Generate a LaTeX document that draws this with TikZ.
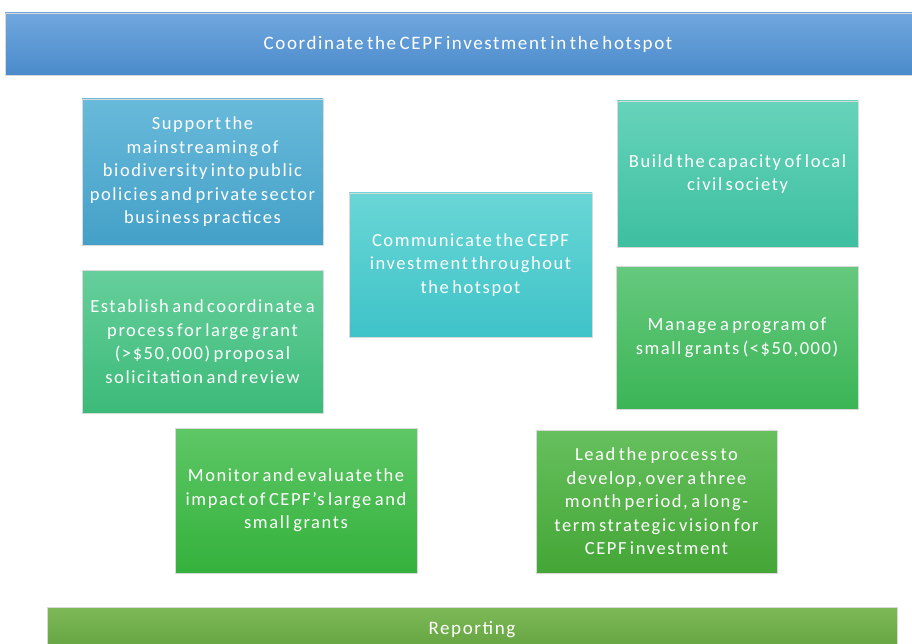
\documentclass[tikz,border=0pt]{standalone}
\usepackage{fontspec}
\setmainfont{Carlito}[LetterSpace=8.5, WordSpace=0.6]
\begin{document}
\begin{tikzpicture}[x=1pt,y=-1pt,
  card/.style={rectangle, draw=white!70!gray, line width=0.8pt, align=center,
    inner sep=0pt, font=\fontsize{18.5}{23.5}\selectfont, text=white},
  bar/.style={rectangle, draw=white!70!gray, line width=0.8pt, inner sep=0pt,
    font=\fontsize{19}{20}\selectfont, text=white}]
\definecolor{topA}{HTML}{71A7DE}\definecolor{topB}{HTML}{4A8BCB}
\definecolor{supA}{HTML}{68BADA}\definecolor{supB}{HTML}{44A0C8}
\definecolor{estA}{HTML}{66CF9C}\definecolor{estB}{HTML}{3CBA78}
\definecolor{comA}{HTML}{6AD6D6}\definecolor{comB}{HTML}{3EC3C8}
\definecolor{bldA}{HTML}{66D3BB}\definecolor{bldB}{HTML}{3EBF9F}
\definecolor{manA}{HTML}{66C97E}\definecolor{manB}{HTML}{3BB556}
\definecolor{monA}{HTML}{5EC766}\definecolor{monB}{HTML}{34B13C}
\definecolor{leadA}{HTML}{66C05E}\definecolor{leadB}{HTML}{44A636}
\definecolor{repA}{HTML}{7DB957}\definecolor{repB}{HTML}{62A23F}

\useasboundingbox (0,0) rectangle (912,644);

% header and footer bars
\node[bar, top color=topA, bottom color=topB, minimum width=926pt, minimum height=62pt]
  (coord) at (468,44) {Coordinate the CEPF investment in the hotspot};
\node[bar, top color=repA, bottom color=repB, minimum width=850pt, minimum height=46pt]
  (report) at (472,630) {Reporting};

% task cards
\node[card, top color=supA, bottom color=supB, minimum width=241pt, minimum height=146pt]
  (support) at (202.5,172) {Support the\\mainstreaming of\\biodiversity into public\\policies and private sector\\business practices};
\node[card, top color=estA, bottom color=estB, minimum width=241pt, minimum height=143pt]
  (establish) at (202.5,341.5) {Establish and coordinate a\\process for large grant\\(>\$50,000) proposal\\solicitation and review};
\node[card, top color=comA, bottom color=comB, minimum width=243pt, minimum height=144pt]
  (communicate) at (470.5,265) {Communicate the CEPF\\investment throughout\\the hotspot};
\node[card, top color=bldA, bottom color=bldB, minimum width=241pt, minimum height=146pt]
  (build) at (737.5,174) {Build the capacity of local\\civil society};
\node[card, top color=manA, bottom color=manB, minimum width=242pt, minimum height=143pt]
  (manage) at (737,337.5) {Manage a program of\\small grants (<\$50,000)};
\node[card, top color=monA, bottom color=monB, minimum width=242pt, minimum height=145pt]
  (monitor) at (296,500.5) {Monitor and evaluate the\\impact of CEPF’s large and\\small grants};
\node[card, top color=leadA, bottom color=leadB, minimum width=241pt, minimum height=143pt]
  (lead) at (656.5,501.5) {Lead the process to\\develop, over a three\\month period, a long-\\term strategic vision for\\CEPF investment};
\end{tikzpicture}
\end{document}
